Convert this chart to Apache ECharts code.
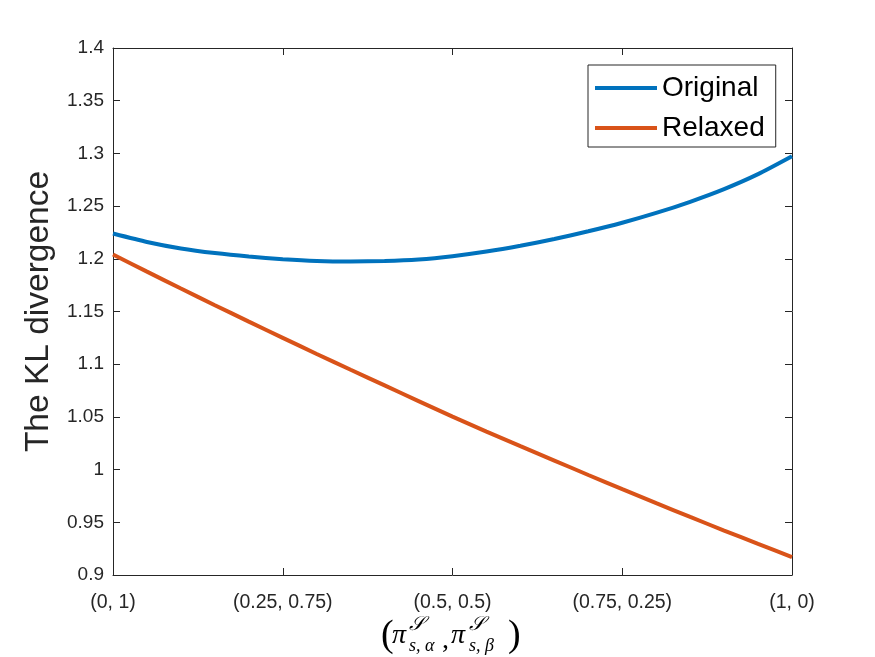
<!DOCTYPE html>
<html>
<head>
<meta charset="utf-8">
<script src="https://cdn.jsdelivr.net/npm/echarts@6/dist/echarts.min.js"></script>
<style>html,body{margin:0;padding:0;background:#fff}#c{width:875px;height:657px}</style>
</head>
<body>
<div id="c"></div>
<script>
// ---- data ----
const xTickValues = [0, 0.25, 0.5, 0.75, 1];
const xTickLabels = ['(0, 1)', '(0.25, 0.75)', '(0.5, 0.5)', '(0.75, 0.25)', '(1, 0)'];
const tValues = [0, 0.05, 0.1, 0.15, 0.2, 0.25, 0.3, 0.35, 0.4, 0.45, 0.5, 0.55, 0.6, 0.65, 0.7, 0.75, 0.8, 0.85, 0.9, 0.95, 1];
const originalValues = [1.2240, 1.2160, 1.2098, 1.2054, 1.2021, 1.1996, 1.1979, 1.1974, 1.1979, 1.1994, 1.2025, 1.2069, 1.2124, 1.2188, 1.2261, 1.2342, 1.2435, 1.2541, 1.2661, 1.2803, 1.2973];
const relaxedValues = [1.2040, 1.1878, 1.1718, 1.1560, 1.1404, 1.1250, 1.1097, 1.0947, 1.0799, 1.0650, 1.0502, 1.0361, 1.0223, 1.0086, 0.9949, 0.9815, 0.9682, 0.9551, 0.9422, 0.9295, 0.9170];
const seriesNames = ['Original', 'Relaxed'];
const yMin = 0.9, yMax = 1.4, yStep = 0.05;

const axisColor = '#262626';
const fontSans = 'Liberation Sans, Arial, Helvetica, sans-serif';
const fontSerif = 'Liberation Serif, DejaVu Serif, serif';

const chart = echarts.init(document.getElementById('c'), null, {renderer: 'canvas'});

const toPairs = (xs, ys) => xs.map((x, i) => [x, ys[i]]);

const baseX = {
  type: 'value', min: 0, max: 1, interval: 0.25,
  axisLine: {show: true, onZero: false, lineStyle: {color: axisColor, width: 1}},
  axisTick: {show: true, inside: true, length: 7, lineStyle: {color: axisColor, width: 1}},
  splitLine: {show: false}
};
const baseY = {
  type: 'value', min: yMin, max: yMax, interval: yStep,
  axisLine: {show: true, onZero: false, lineStyle: {color: axisColor, width: 1}},
  axisTick: {show: true, inside: true, length: 7, lineStyle: {color: axisColor, width: 1}},
  splitLine: {show: false}
};

function mathText(x, y, text, font) {
  return {type: 'text', x: x, y: y, silent: true,
    style: {text: text, font: font, fill: '#000', align: 'left', verticalAlign: 'middle'}};
}

const option = {
  backgroundColor: '#fff',
  animation: false,
  grid: {left: 113, right: 83, top: 48, bottom: 82, containLabel: false},
  xAxis: [
    Object.assign({}, baseX, {
      position: 'bottom',
      axisLabel: {
        show: true, color: axisColor, fontSize: 19.5, fontFamily: fontSans, margin: 18,
        showMinLabel: true, showMaxLabel: true,
        formatter: v => {
          const i = xTickValues.findIndex(t => Math.abs(t - v) < 1e-9);
          return i >= 0 ? xTickLabels[i] : '';
        }
      }
    }),
    Object.assign({}, baseX, {position: 'top', axisLabel: {show: false}})
  ],
  yAxis: [
    Object.assign({}, baseY, {
      position: 'left',
      name: 'The KL divergence',
      nameLocation: 'middle',
      nameGap: 56,
      nameTextStyle: {fontSize: 33.5, color: axisColor, fontFamily: fontSans},
      axisLabel: {
        show: true, color: axisColor, fontSize: 19, fontFamily: fontSans, margin: 9,
        showMinLabel: true, showMaxLabel: true,
        formatter: v => String(parseFloat(v.toFixed(2)))
      }
    }),
    Object.assign({}, baseY, {position: 'right', axisLabel: {show: false}})
  ],
  legend: {
    data: seriesNames,
    orient: 'vertical',
    left: 588, top: 65,
    backgroundColor: '#fff',
    borderColor: axisColor, borderWidth: 1, borderRadius: 0,
    padding: [9, 11, 5, 7],
    icon: 'rect',
    itemWidth: 62, itemHeight: 4, itemGap: 12,
    textStyle: {fontSize: 28, color: '#000', fontFamily: fontSans}
  },
  series: [
    {
      name: seriesNames[0], type: 'line', xAxisIndex: 0, yAxisIndex: 0,
      data: toPairs(tValues, originalValues),
      showSymbol: false, symbol: 'none', smooth: 0.2,
      lineStyle: {color: '#0072BD', width: 4},
      itemStyle: {color: '#0072BD'}
    },
    {
      name: seriesNames[1], type: 'line', xAxisIndex: 0, yAxisIndex: 0,
      data: toPairs(tValues, relaxedValues),
      showSymbol: false, symbol: 'none', smooth: 0.2,
      lineStyle: {color: '#D95319', width: 4},
      itemStyle: {color: '#D95319'}
    }
  ],
  graphic: [
    mathText(381, 636, '(', '38px ' + fontSerif),
    mathText(392, 636, 'π', 'italic 28px ' + fontSerif),
    mathText(409, 625, '𝒮', 'italic 20px ' + fontSerif),
    mathText(409, 646, 's, α', 'italic 18px ' + fontSerif),
    mathText(442, 641, ',', '28px ' + fontSerif),
    mathText(451, 636, 'π', 'italic 28px ' + fontSerif),
    mathText(469, 625, '𝒮', 'italic 20px ' + fontSerif),
    mathText(469, 646, 's, β', 'italic 18px ' + fontSerif),
    mathText(508, 636, ')', '38px ' + fontSerif)
  ]
};
chart.setOption(option);
</script>
</body>
</html>
